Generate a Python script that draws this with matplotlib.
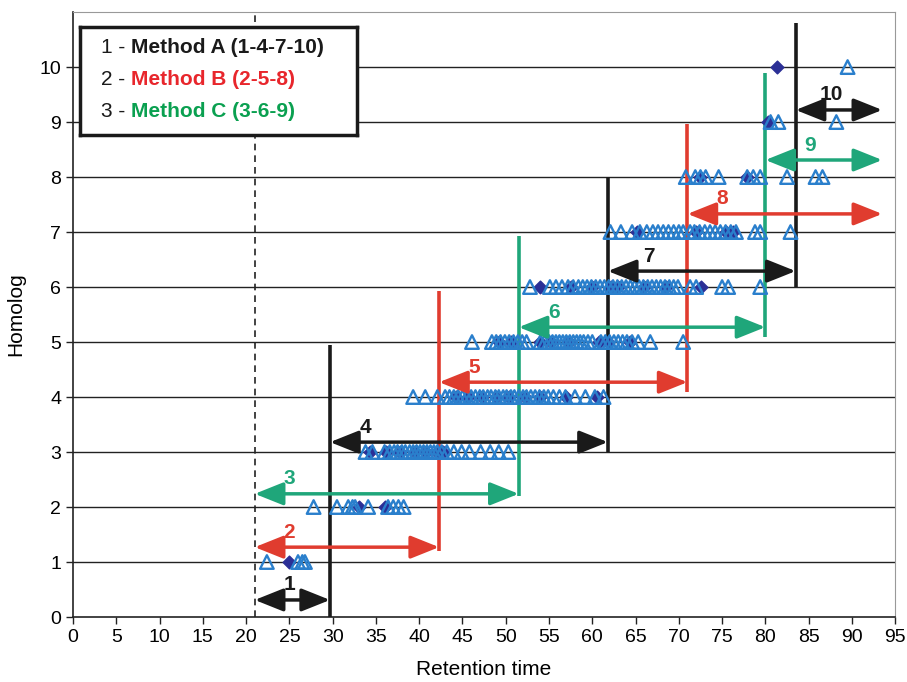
import matplotlib
matplotlib.use("Agg")
import matplotlib.pyplot as plt
import numpy as np

plt.rcParams['font.family'] = ['Liberation Sans', 'DejaVu Sans']

# homolog rows: triangles (all peaks) and diamonds (marked peaks)
tri_x = {
    1: [22.4, 26.0, 26.5, 26.8],
    2: [27.8, 30.5, 31.8, 32.3, 32.6, 34.1, 36.4, 37.0, 37.6, 38.2],
    3: [33.8, 34.6, 36.0, 36.6, 37.1, 37.5, 38.0, 38.4, 38.9, 39.3, 39.7, 40.1,
        40.5, 40.9, 41.3, 41.7, 42.1, 42.6, 43.2, 44.0, 44.9, 45.8, 47.1, 48.2,
        49.2, 50.3],
    4: [39.3, 40.7, 42.1, 43.0, 43.5, 44.0, 44.5, 45.0, 45.5, 46.0, 46.5, 47.0,
        47.4, 47.9, 48.3, 48.8, 49.2, 49.7, 50.1, 50.6, 51.0, 51.5, 52.0, 52.4,
        52.9, 53.4, 53.9, 54.4, 54.9, 55.5, 56.2, 56.9, 58.0, 59.2, 60.3, 61.3],
    5: [46.1, 48.4, 48.9, 49.4, 49.9, 50.4, 50.9, 51.4, 51.9, 52.4, 54.0, 54.5,
        55.0, 55.4, 55.8, 56.2, 56.6, 57.0, 57.4, 57.8, 58.2, 58.6, 59.0, 59.5,
        60.0, 61.0, 61.5, 62.0, 62.5, 63.0, 63.5, 64.0, 64.6, 65.3, 66.7, 70.5],
    6: [52.8, 55.1, 55.8, 56.5, 57.2, 57.8, 58.4, 58.9, 59.4, 59.9, 60.4, 60.9,
        61.4, 61.9, 62.4, 62.9, 63.4, 63.9, 64.4, 64.9, 65.4, 65.9, 66.4, 66.9,
        67.4, 67.9, 68.4, 68.9, 69.4, 69.9, 71.3, 72.0, 75.0, 75.7, 79.4],
    7: [62.1, 63.3, 64.6, 65.5, 66.3, 67.0, 67.6, 68.2, 68.8, 69.4, 70.0, 70.5,
        71.3, 71.8, 72.4, 73.0, 73.6, 74.2, 74.8, 75.4, 76.0, 76.6, 78.8, 79.4,
        82.9],
    8: [70.8, 71.9, 72.5, 73.1, 74.6, 77.9, 78.6, 79.4, 82.5, 85.8, 86.6],
    9: [80.6, 81.5, 88.2],
    10: [89.5],
}
dia_x = {
    1: [24.9],
    2: [33.1, 36.1],
    3: [34.3, 36.2, 37.8, 39.5, 40.8, 42.0, 42.8],
    4: [44.2, 45.6, 47.3, 48.9, 50.4, 52.2, 54.0, 57.0, 60.6],
    5: [49.2, 50.6, 53.9, 55.2, 57.3, 60.8, 61.8, 64.4],
    6: [54.0, 57.5, 60.0, 62.2, 63.0, 66.0, 68.5, 72.6],
    7: [65.2, 72.0, 75.5, 76.3],
    8: [72.5, 77.9],
    9: [80.3],
    10: [81.3],
}

# time windows: label, start, end, arrow height, method
win_labels = ['1', '2', '3', '4', '5', '6', '7', '8', '9', '10']
win_start = [21.0, 21.0, 21.0, 29.7, 42.3, 51.5, 61.8, 71.0, 80.0, 83.5]
win_end = [29.7, 42.3, 51.5, 61.8, 71.0, 80.0, 83.5, 93.5, 93.5, 93.5]
win_y = [0.31, 1.27, 2.24, 3.18, 4.27, 5.27, 6.29, 7.33, 8.31, 9.22]
win_method = ['A', 'B', 'C', 'A', 'B', 'C', 'A', 'B', 'C', 'A']
label_x = [25.0, 25.0, 25.0, 33.8, 46.3, 55.6, 66.5, 75.0, 85.2, 87.6]

# window boundary lines
cut_x = [29.7, 61.8, 83.5, 42.3, 71.0, 51.5, 80.0]
cut_y0 = [0.0, 3.0, 6.0, 1.2, 4.1, 2.2, 5.1]
cut_y1 = [4.95, 8.0, 10.8, 5.93, 8.96, 6.93, 9.9]
cut_method = ['A', 'A', 'A', 'B', 'B', 'C', 'C']

colors = {'A': '#1a1a1a', 'B': '#e03c2f', 'C': '#1fa67a'}
tri_color = '#2a7fcc'
dia_color = '#2b2f96'

fig = plt.figure(figsize=(9.07, 6.82), dpi=100)
ax = fig.add_axes([0.0805, 0.0953, 0.9065, 0.887])

ax.set_xlim(0, 95)
ax.set_ylim(0, 11)
ax.set_xticks(np.arange(0, 96, 5))
ax.set_yticks(np.arange(0, 11, 1))
for y in range(1, 11):
    ax.axhline(y, color='#222222', lw=1.0, zorder=1)

ax.axvline(21, color='#222222', lw=1.2, ls=(0, (4, 3)), zorder=2)

for y in dia_x:
    ax.scatter(dia_x[y], [y] * len(dia_x[y]), marker='D', s=42,
               color=dia_color, zorder=4)
for y in tri_x:
    ax.scatter(tri_x[y], [y] * len(tri_x[y]), marker='^', s=95,
               facecolors='none', edgecolors=tri_color, linewidths=1.7, zorder=5)

for x, y0, y1, m in zip(cut_x, cut_y0, cut_y1, cut_method):
    ax.plot([x, x], [y0, y1], color=colors[m], lw=2.6, zorder=3,
            solid_capstyle='butt')

for lab, x0, x1, y, m, lx in zip(win_labels, win_start, win_end, win_y,
                                  win_method, label_x):
    ax.annotate('', xy=(x1, y), xytext=(x0, y),
                arrowprops=dict(arrowstyle='<|-|>,head_length=1.25,head_width=0.5',
                                color=colors[m], lw=2.5, shrinkA=0, shrinkB=0,
                                mutation_scale=14),
                zorder=6)
    ax.text(lx, y + 0.1, lab, color=colors[m], fontsize=15, fontweight='bold',
            ha='center', va='bottom', zorder=7)

ax.set_xlabel('Retention time', fontsize=15, labelpad=10)
ax.set_ylabel('Homolog', fontsize=15, labelpad=10)
ax.tick_params(labelsize=14, direction='out', length=5, width=1, color='#222222')
for s in ['top', 'right']:
    ax.spines[s].set_color('#999999')
for s in ['left', 'bottom']:
    ax.spines[s].set_color('#222222')
    ax.spines[s].set_linewidth(1.2)

# legend box
leg = fig.add_axes([80 / 907, 1 - 135 / 682, 277 / 907, 108 / 682])
leg.set_xticks([])
leg.set_yticks([])
leg.set_zorder(10)
for s in leg.spines.values():
    s.set_linewidth(2.5)
    s.set_color('#1a1a1a')
leg_num = ['1 - ', '2 - ', '3 - ']
leg_txt = ['Method A (1-4-7-10)', 'Method B (2-5-8)', 'Method C (3-6-9)']
leg_col = ['#1a1a1a', '#e8262c', '#0aa050']
for i in range(3):
    yy = 0.81 - i * 0.295
    t = leg.text(0.075, yy, leg_num[i], fontsize=15, color='#1a1a1a',
                 va='center', ha='left', transform=leg.transAxes)
    leg.annotate(leg_txt[i], xycoords=t, xy=(1, 0.5), va='center', ha='left',
                 fontsize=15, fontweight='bold', color=leg_col[i])

fig.savefig('out.png', dpi=100)
